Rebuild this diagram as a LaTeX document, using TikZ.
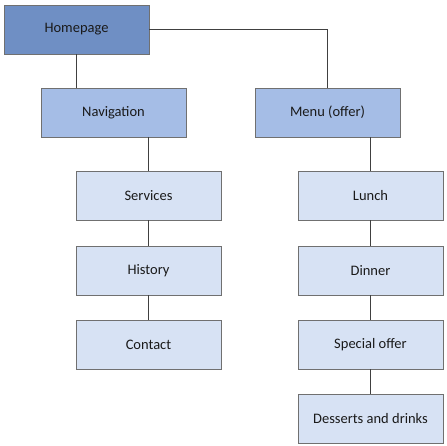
\documentclass[tikz,border=0pt]{standalone}
\usepackage{fontspec}
\setmainfont{Carlito}
\definecolor{topblue}{HTML}{6F8FC4}
\definecolor{midblue}{HTML}{A5BDE6}
\definecolor{lightblue}{HTML}{D7E2F4}
\definecolor{boxline}{HTML}{707070}
\definecolor{conline}{HTML}{404040}
\definecolor{textcol}{HTML}{1A1A1A}
\tikzset{
  box/.style={draw=boxline, line width=0.9pt, minimum width=145pt, minimum height=49pt, inner sep=0pt, text=textcol, font=\fontsize{14.5}{16}\selectfont},
  topbox/.style={box, fill=topblue},
  midbox/.style={box, fill=midblue},
  leafbox/.style={box, fill=lightblue},
  con/.style={draw=conline, line width=0.8pt}
}
\begin{document}
\begin{tikzpicture}[x=1pt,y=-1pt]
\useasboundingbox (0,0) rectangle (446,446);
\fill[white] (0,0) rectangle (446,446);
\node[topbox] (home) at (76.5,29.5) {Homepage};
\node[midbox] (nav) at (113.5,112.5) {Navigation};
\node[midbox] (menu) at (327.5,112.5) {Menu (offer)};
\node[leafbox] (serv) at (148.5,195.5) {Services};
\node[leafbox] (hist) at (148.5,270.5) {History};
\node[leafbox] (cont) at (148.5,344.5) {Contact};
\node[leafbox] (lunch) at (370.5,195.5) {Lunch};
\node[leafbox] (dinner) at (370.5,270.5) {Dinner};
\node[leafbox] (special) at (370.5,344.5) {Special offer};
\node[leafbox] (dess) at (370.5,418.5) {Desserts and drinks};
\draw[con] (home.south) -- (home.south |- nav.north);
\draw[con] (home.east) -| (menu.north);
\draw[con] (serv.north) -- (serv.north |- nav.south);
\draw[con] (serv) -- (hist);
\draw[con] (hist) -- (cont);
\draw[con] (lunch.north) -- (lunch.north |- menu.south);
\draw[con] (lunch) -- (dinner);
\draw[con] (dinner) -- (special);
\draw[con] (special) -- (dess);
\end{tikzpicture}
\end{document}
